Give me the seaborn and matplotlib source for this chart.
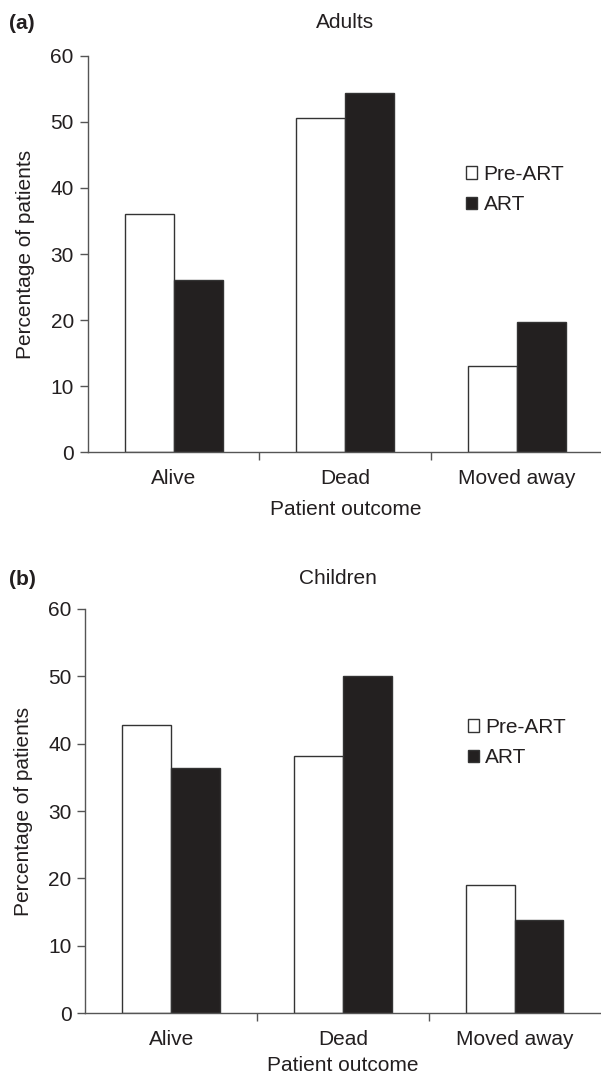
import matplotlib
matplotlib.use('Agg')
import matplotlib.pyplot as plt
import seaborn as sns
import pandas as pd

# data
outcomes = ['Alive', 'Dead', 'Moved away']
groups = ['Pre-ART', 'ART']
adults_pre = [36.0, 50.6, 13.1]
adults_art = [26.0, 54.3, 19.7]
children_pre = [42.7, 38.1, 19.1]
children_art = [36.4, 50.0, 13.8]
y_ticks = [0, 10, 20, 30, 40, 50, 60]

INK = '#231f20'
AXIS = '#555555'
FS = 15


def make_frame(pre, art):
    rows = []
    for o, v in zip(outcomes, pre):
        rows.append({'outcome': o, 'group': groups[0], 'pct': v})
    for o, v in zip(outcomes, art):
        rows.append({'outcome': o, 'group': groups[1], 'pct': v})
    return pd.DataFrame(rows)


def draw_panel(ax, df, legend_xy, xpad):
    sns.barplot(data=df, x='outcome', y='pct', hue='group', order=outcomes,
                hue_order=groups, palette={'Pre-ART': 'white', 'ART': INK},
                edgecolor='#333333', linewidth=1.0, width=0.57, ax=ax,
                errorbar=None)
    ax.set_xlim(-0.5, 2.5)
    ax.set_ylim(0, 60)
    ax.set_yticks(y_ticks)
    ax.set_ylabel('Percentage of patients', fontsize=FS, color=INK, labelpad=11)
    ax.set_xlabel('Patient outcome', fontsize=FS, color=INK, labelpad=xpad)
    ax.spines['top'].set_visible(False)
    ax.spines['right'].set_visible(False)
    for s in ['left', 'bottom']:
        ax.spines[s].set_color(AXIS)
        ax.spines[s].set_linewidth(1.0)
    ax.tick_params(axis='y', left=True, direction='out', length=6, width=1,
                   color=AXIS, labelsize=FS, labelcolor=INK, pad=4)
    ax.tick_params(axis='x', which='major', bottom=True, length=0,
                   labelsize=FS, labelcolor=INK, pad=12)
    ax.set_xticks([0.5, 1.5], minor=True)
    ax.tick_params(axis='x', which='minor', bottom=True, direction='out',
                   length=6, width=1, color=AXIS)
    ax.legend(loc='upper left', bbox_to_anchor=legend_xy, frameon=False,
              fontsize=FS, handlelength=0.55, handleheight=0.55,
              handletextpad=0.3, labelspacing=0.55, borderpad=0,
              borderaxespad=0)
    for t in ax.get_legend().get_texts():
        t.set_color(INK)


sns.set_theme(style='white')
plt.rcParams['font.family'] = ['Liberation Sans', 'DejaVu Sans']

fig = plt.figure(figsize=(6.01, 10.8), dpi=100)
ax_a = fig.add_axes([0.146, 0.5812, 0.857, 0.3672])
ax_b = fig.add_axes([0.142, 0.0618, 0.857, 0.3745])

draw_panel(ax_a, make_frame(adults_pre, adults_art), (0.734, 0.725), 9)
draw_panel(ax_b, make_frame(children_pre, children_art), (0.742, 0.73), 5)

fig.text(0.015, 0.978, '(a)', fontsize=FS, fontweight='bold', color=INK, va='center')
fig.text(0.574, 0.979, 'Adults', fontsize=FS, color=INK, ha='center', va='center')
fig.text(0.015, 0.463, '(b)', fontsize=FS, fontweight='bold', color=INK, va='center')
fig.text(0.562, 0.464, 'Children', fontsize=FS, color=INK, ha='center', va='center')

fig.savefig('out.png', dpi=100, facecolor='white')
